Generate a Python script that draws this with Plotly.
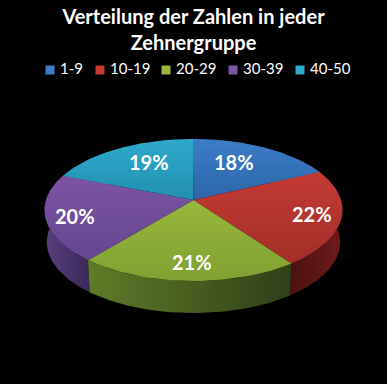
import numpy as np
import plotly.graph_objects as go

categories = ["1-9", "10-19", "20-29", "30-39", "40-50"]
values = [18, 22, 21, 20, 19]
top_colors = [("#2c66a8", "#3c7dc6"), ("#a32e29", "#c43a33"), ("#80a032", "#98b83e"),
              ("#664690", "#7c54a2"), ("#2290ae", "#2eaacb")]
wall_colors = [("#1d4570", "#1d4570"), ("#4a1210", "#6e1c18"), ("#5f7c28", "#2f4018"),
               ("#5a4080", "#3a2858"), ("#175f75", "#175f75")]
label_dx = [-11, 1, 3, -1, 16]
label_dy = [0, 0, -1, 2, 4]
label_r = [0.7, 0.8, 0.8, 0.8, 0.8]
legend_x = [50, 100, 166, 233, 300]
LEGEND_Y = 70
LEGEND_TEXT_GAP = 10

CX, CY, A, B, P, DEPTH = 193.5, 200.0, 147.5, 69.6, 0.141, 32.0


def project(r, phi):
    s, c = np.sin(phi), np.cos(phi)
    w = 1 + P * r * c
    return CX + A * r * s / w, CY - B * r * c / w


def grad(pair, kind):
    return dict(type=kind, colorscale=[[0, pair[0]], [1, pair[1]]])


edges = np.cumsum([0] + values) / sum(values) * 2 * np.pi
fig = go.Figure()

# outer walls, back ones first so the visible front ones sit above them
order = sorted(range(5), key=lambda i: np.cos((edges[i] + edges[i + 1]) / 2), reverse=True)
for i in order:
    phi = np.linspace(edges[i], edges[i + 1], 60)
    x, y = project(1, phi)
    xb = CX + (x - CX) * 0.985
    yb = y + DEPTH
    fig.add_trace(go.Scatter(
        x=np.r_[x, xb[::-1], x[0]], y=np.r_[y, yb[::-1], y[0]],
        mode="lines", line=dict(width=0), fill="toself",
        fillgradient=grad(wall_colors[i], "horizontal"),
        showlegend=False, hoverinfo="skip"))

# top faces
for i in range(5):
    phi = np.linspace(edges[i], edges[i + 1], 60)
    x, y = project(1, phi)
    fig.add_trace(go.Scatter(
        x=np.r_[CX, x, CX], y=np.r_[CY, y, CY],
        mode="lines", line=dict(width=0), fill="toself",
        fillgradient=grad(top_colors[i], "vertical"),
        showlegend=False, hoverinfo="skip"))

# legend row: square key and text for each category
for i, name in enumerate(categories):
    fig.add_trace(go.Scatter(
        x=[legend_x[i]], y=[LEGEND_Y], mode="markers", name=name,
        marker=dict(symbol="square", size=9, color=top_colors[i][1]),
        showlegend=False, hoverinfo="skip"))
    fig.add_trace(go.Scatter(
        x=[legend_x[i] + LEGEND_TEXT_GAP], y=[LEGEND_Y], mode="text", name=name,
        text=[name], textposition="middle right",
        textfont=dict(family="Lato", size=15, color="white"),
        showlegend=False, hoverinfo="skip"))

# percentage labels
mid = (edges[:-1] + edges[1:]) / 2
annotations = []
for i, v in enumerate(values):
    lx, ly = project(label_r[i], mid[i])
    annotations.append(dict(
        x=float(lx), y=float(ly), xref="x", yref="y", text=f"{v}%", showarrow=False,
        xshift=label_dx[i], yshift=-label_dy[i],
        font=dict(family="Lato", size=20, color="white", weight="bold")))

fig.update_layout(
    width=387, height=384, margin=dict(l=0, r=0, t=0, b=0),
    paper_bgcolor="black", plot_bgcolor="black",
    xaxis=dict(range=[0, 387], visible=False, fixedrange=True),
    yaxis=dict(range=[384, 0], visible=False, fixedrange=True),
    title=dict(text="<b>Verteilung der Zahlen in jeder<br>Zehnergruppe</b>",
               x=0.5, xanchor="center", y=0.938, yanchor="top",
               font=dict(family="Lato", size=20, color="white")),
    showlegend=False,
    annotations=annotations,
)
fig.write_html("out.html", config=dict(displayModeBar=False),
               post_script="document.body.style.margin='0';document.body.style.background='black';")
